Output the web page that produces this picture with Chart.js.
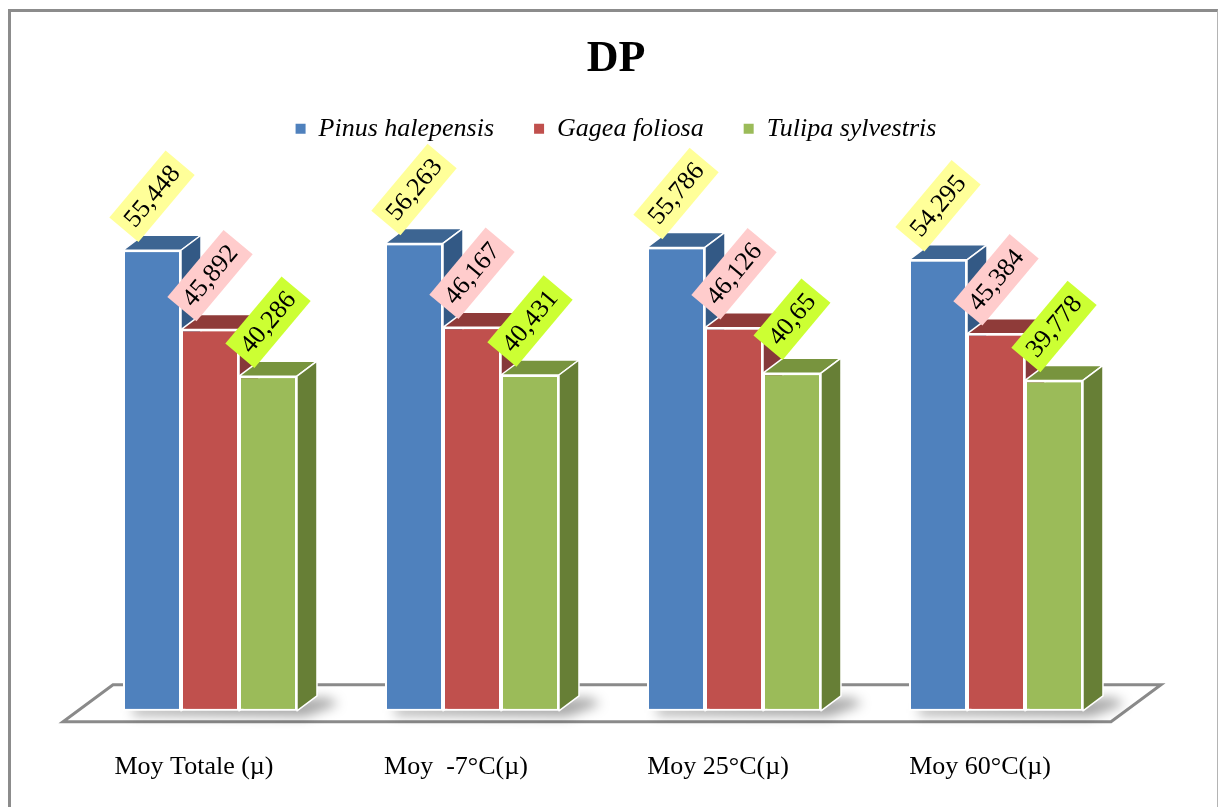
<!DOCTYPE html>
<html>
<head>
<meta charset="utf-8">
<script src="https://cdn.jsdelivr.net/npm/chart.js@4/dist/chart.umd.min.js"></script>
<style>
  body { margin: 0; background: #fff; }
  #wrap { position: relative; width: 1218px; height: 807px; overflow: hidden; }
  #frame { position: absolute; left: 8px; top: 9px; width: 1206px; height: 820px;
           border-top: 3px solid #8c8c8c; border-left: 3px solid #8c8c8c; border-right: 1px solid #b4b4b4;
           pointer-events: none; }
</style>
</head>
<body>
<div id="wrap">
  <canvas id="dpChart" width="1218" height="807"></canvas>
  <div id="frame"></div>
</div>
<script>
// chart data
const categories = ["Moy Totale (\u00b5)", "Moy  -7\u00b0C(\u00b5)", "Moy 25\u00b0C(\u00b5)", "Moy 60\u00b0C(\u00b5)"];
const seriesNames = ["Pinus halepensis", "Gagea foliosa", "Tulipa sylvestris"];
const pinusValues = [55.448, 56.263, 55.786, 54.295];
const gageaValues = [45.892, 46.167, 46.126, 45.384];
const tulipaValues = [40.286, 40.431, 40.65, 39.778];

// colours for the fake 3d look
const frontColors = ["#4f81bd", "#c0504d", "#9bbb59"];
const topColors = ["#3d6592", "#8f3b39", "#78943e"];
const sideColors = ["#335985", "#86393a", "#677f36"];
const labelFills = ["#ffff99", "#ffcccc", "#ccff33"];

const SERIF = "'Liberation Serif', 'Times New Roman', serif";
const DEPTH_X = 20, DEPTH_Y = -15;     // bar depth
const SHIFT_X = -16, SHIFT_Y = 11;     // bar front -> floor front edge
const FLOOR_X = 50, FLOOR_Y = -37;     // floor depth

const fmt = (v) => String(v).replace(".", ",");

function drawFaces(ctx, bar, i) {
  const x0 = bar.x - bar.width / 2, x1 = bar.x + bar.width / 2;
  const yt = bar.y, yb = bar.base;
  ctx.save();
  ctx.lineWidth = 1.5;
  ctx.strokeStyle = "#ffffff";
  ctx.lineJoin = "round";
  // top face
  ctx.beginPath();
  ctx.moveTo(x0, yt);
  ctx.lineTo(x0 + DEPTH_X, yt + DEPTH_Y);
  ctx.lineTo(x1 + DEPTH_X, yt + DEPTH_Y);
  ctx.lineTo(x1, yt);
  ctx.closePath();
  ctx.fillStyle = topColors[i];
  ctx.fill();
  ctx.stroke();
  // side face
  ctx.beginPath();
  ctx.moveTo(x1, yt);
  ctx.lineTo(x1 + DEPTH_X, yt + DEPTH_Y);
  ctx.lineTo(x1 + DEPTH_X, yb + DEPTH_Y);
  ctx.lineTo(x1, yb);
  ctx.closePath();
  ctx.fillStyle = sideColors[i];
  ctx.fill();
  ctx.stroke();
  ctx.restore();
}

// floor, bar tops / sides, and rotated value labels
const threeD = {
  id: "threeD",
  beforeDatasetsDraw(chart) {
    const { ctx, chartArea } = chart;
    const y0 = chart.scales.y.getPixelForValue(0);
    const fl = chartArea.left + SHIFT_X, fr = chartArea.right + SHIFT_X, fy = y0 + SHIFT_Y;
    ctx.save();
    ctx.beginPath();
    ctx.moveTo(fl, fy);
    ctx.lineTo(fr, fy);
    ctx.lineTo(fr + FLOOR_X, fy + FLOOR_Y);
    ctx.lineTo(fl + FLOOR_X, fy + FLOOR_Y);
    ctx.closePath();
    ctx.fillStyle = "#ffffff";
    ctx.fill();
    ctx.lineWidth = 3;
    ctx.strokeStyle = "#8a8a8a";
    ctx.stroke();

    // soft shadow under each bar group
    ctx.filter = "blur(6px)";
    ctx.fillStyle = "rgba(0,0,0,0.35)";
    categories.forEach((c, j) => {
      const first = chart.getDatasetMeta(0).data[j];
      const last = chart.getDatasetMeta(2).data[j];
      const l = first.x - first.width / 2, r = last.x + last.width / 2;
      ctx.beginPath();
      ctx.moveTo(l + 10, y0 - 4);
      ctx.lineTo(r + DEPTH_X + 10, y0 + DEPTH_Y + 2);
      ctx.lineTo(r + DEPTH_X + 22, y0 + DEPTH_Y + 8);
      ctx.lineTo(r + 8, y0 + 6);
      ctx.lineTo(l + 10, y0 + 4);
      ctx.closePath();
      ctx.fill();
    });
    ctx.restore();
  },
  afterDatasetsDraw(chart) {
    const { ctx } = chart;
    const metas = chart.data.datasets.map((d, i) => chart.getDatasetMeta(i));
    // redraw each group left to right so the next bar hides the previous side
    categories.forEach((c, j) => {
      metas.forEach((meta, i) => {
        const bar = meta.data[j];
        drawFaces(ctx, bar, i);
        bar.draw(ctx);
      });
    });

    ctx.save();
    ctx.font = "26px " + SERIF;
    ctx.textAlign = "center";
    ctx.textBaseline = "middle";
    chart.data.datasets.forEach((ds, i) => {
      metas[i].data.forEach((bar, j) => {
        const txt = fmt(ds.data[j]);
        const w = ctx.measureText(txt).width + 16;
        ctx.save();
        ctx.translate(bar.x, bar.y - 54);
        ctx.rotate(-50 * Math.PI / 180);
        ctx.fillStyle = labelFills[i];
        ctx.fillRect(-w / 2, -19, w, 38);
        ctx.fillStyle = "#000";
        ctx.fillText(txt, 0, 1);
        ctx.restore();
      });
    });
    ctx.restore();
  }
};

const seriesValues = [pinusValues, gageaValues, tulipaValues];

new Chart(document.getElementById("dpChart"), {
  type: "bar",
  data: {
    labels: categories,
    datasets: seriesNames.map((name, i) => ({
      label: name,
      data: seriesValues[i],
      backgroundColor: frontColors[i],
      borderColor: "#ffffff",
      borderWidth: 2,
      borderSkipped: false,
      categoryPercentage: 0.664,
      barPercentage: 1,
    })),
  },
  options: {
    responsive: false,
    animation: false,
    layout: { padding: { left: 79, right: 65, top: 0, bottom: -9 } },
    plugins: {
      title: {
        display: true,
        text: "DP",
        color: "#000",
        font: { family: SERIF, size: 44, weight: "bold" },
        padding: { top: 33, bottom: -10 },
      },
      legend: {
        position: "top",
        labels: {
          color: "#000",
          font: { family: SERIF, size: 26, style: "italic" },
          boxWidth: 10,
          boxHeight: 10,
          padding: 40,
          generateLabels: (chart) =>
            Chart.defaults.plugins.legend.labels.generateLabels(chart)
              .map((l) => ({ ...l, strokeStyle: l.fillStyle, lineWidth: 0 })),
        },
      },
      tooltip: { enabled: false },
    },
    scales: {
      x: {
        grid: { display: false },
        border: { display: false },
        ticks: {
          color: "#000",
          font: { family: SERIF, size: 26 },
          padding: 33,
          labelOffset: SHIFT_X,
        },
      },
      y: {
        display: false,
        min: 0,
        max: 67.3,
      },
      // empty axis on the right, only to centre title and legend like the original
      y2: {
        position: "right",
        grid: { display: false },
        border: { display: false },
        ticks: { display: false },
        afterFit: (scale) => { scale.width = 26; },
      },
    },
  },
  plugins: [threeD],
});
</script>
</body>
</html>
